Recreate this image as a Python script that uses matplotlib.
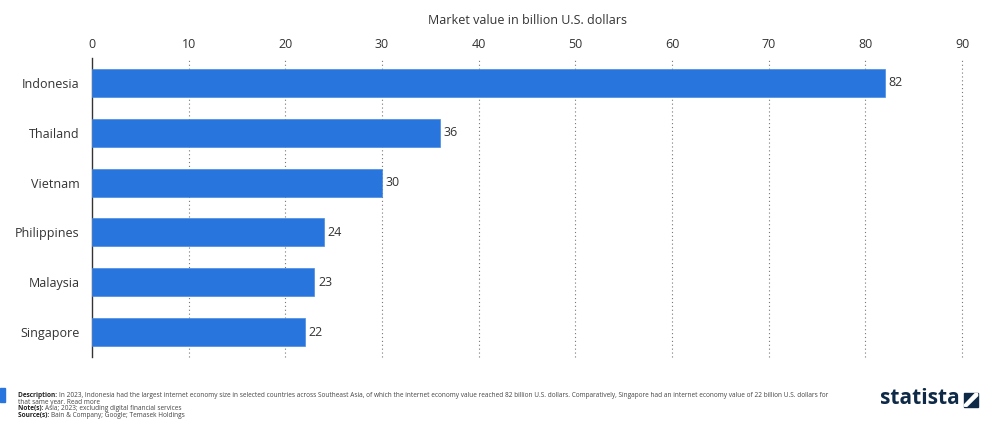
import matplotlib
matplotlib.use("Agg")
import matplotlib.pyplot as plt
from matplotlib.patches import Rectangle, Polygon

countries = ["Indonesia", "Thailand", "Vietnam", "Philippines", "Malaysia", "Singapore"]
values = [82, 36, 30, 24, 23, 22]
x_ticks = [0, 10, 20, 30, 40, 50, 60, 70, 80, 90]

plt.rcParams["font.family"] = ["Open Sans", "DejaVu Sans"]

bar_color = "#2876DD"
text_color = "#333333"
navy = "#0f2a47"

fig = plt.figure(figsize=(9.86, 4.23), dpi=100)
fig.patch.set_facecolor("white")
ax = fig.add_axes([0.0933, 0.156, 0.8824, 0.707])

y = list(range(len(countries)))
ax.barh(y, values, height=0.56, color=bar_color, edgecolor="#4a8be0", linewidth=0.5, zorder=3)
ax.set_ylim(len(countries) - 0.5, -0.5)
ax.set_xlim(0, 90)

for yi, v in zip(y, values):
    ax.text(v + 0.4, yi, f"{v}", va="center", ha="left", fontsize=9, color=text_color, zorder=4)

ax.set_yticks(y)
ax.set_yticklabels(countries, fontsize=9, color=text_color)
ax.set_xticks(x_ticks)
ax.set_xticklabels([str(t) for t in x_ticks], fontsize=9, color=text_color)
ax.xaxis.tick_top()
ax.xaxis.set_label_position("top")
ax.set_xlabel("Market value in billion U.S. dollars", fontsize=9, color=text_color, labelpad=10)
ax.tick_params(axis="y", length=0, pad=9)
ax.tick_params(axis="x", length=0, pad=5)

for t in x_ticks[1:]:
    ax.axvline(t, color="#777777", linestyle=(0, (1, 2.5)), linewidth=0.8, zorder=1, clip_on=False)

for side in ["top", "right", "bottom"]:
    ax.spines[side].set_visible(False)
ax.spines["left"].set_color("#333333")
ax.spines["left"].set_linewidth(1.0)

# Footer
fig.add_artist(Rectangle((0.0, 0.050), 0.005, 0.033, transform=fig.transFigure,
                         color="#2876DD", clip_on=False))
footer_lines = [
    ("Description: ", "In 2023, Indonesia had the largest internet economy size in selected countries across Southeast Asia, of which the internet economy value reached 82 billion U.S. dollars. Comparatively, Singapore had an internet economy value of 22 billion U.S. dollars for"),
    ("", "that same year. Read more"),
    ("Note(s): ", "Asia; 2023; excluding digital financial services"),
    ("Source(s): ", "Bain & Company; Google; Temasek Holdings"),
]
renderer = fig.canvas.get_renderer()
inv = fig.transFigure.inverted()
x_start = 0.018
y0 = 0.065
for bold, rest in footer_lines:
    x = x_start
    if bold:
        t = fig.text(x, y0, bold, fontsize=4.7, fontweight="bold", color="#222222", va="center")
        bb = t.get_window_extent(renderer=renderer)
        x = inv.transform((bb.x1, bb.y0))[0]
    fig.text(x, y0, rest, fontsize=4.7, color="#444444", va="center")
    y0 -= 0.0155

fig.text(0.892, 0.058, "statista", fontsize=15, fontweight="bold", color=navy, va="center", ha="left")
# Logo mark: dark square split by a white diagonal band
lx0, ly0, lw, lh = 0.978, 0.038, 0.0135, 0.033
fig.add_artist(Rectangle((lx0, ly0), lw, lh, transform=fig.transFigure, color=navy, clip_on=False))
fig.add_artist(Polygon([(lx0, ly0 + lh * 0.15), (lx0 + lw * 0.8, ly0 + lh * 0.95),
                        (lx0 + lw, ly0 + lh * 0.95), (lx0 + lw, ly0 + lh * 0.8),
                        (lx0 + lw * 0.2, ly0 + lh * 0.05), (lx0, ly0 + lh * 0.05)],
                       closed=True, transform=fig.transFigure, color="white", clip_on=False))

fig.savefig("out.png", dpi=100, facecolor="white")
